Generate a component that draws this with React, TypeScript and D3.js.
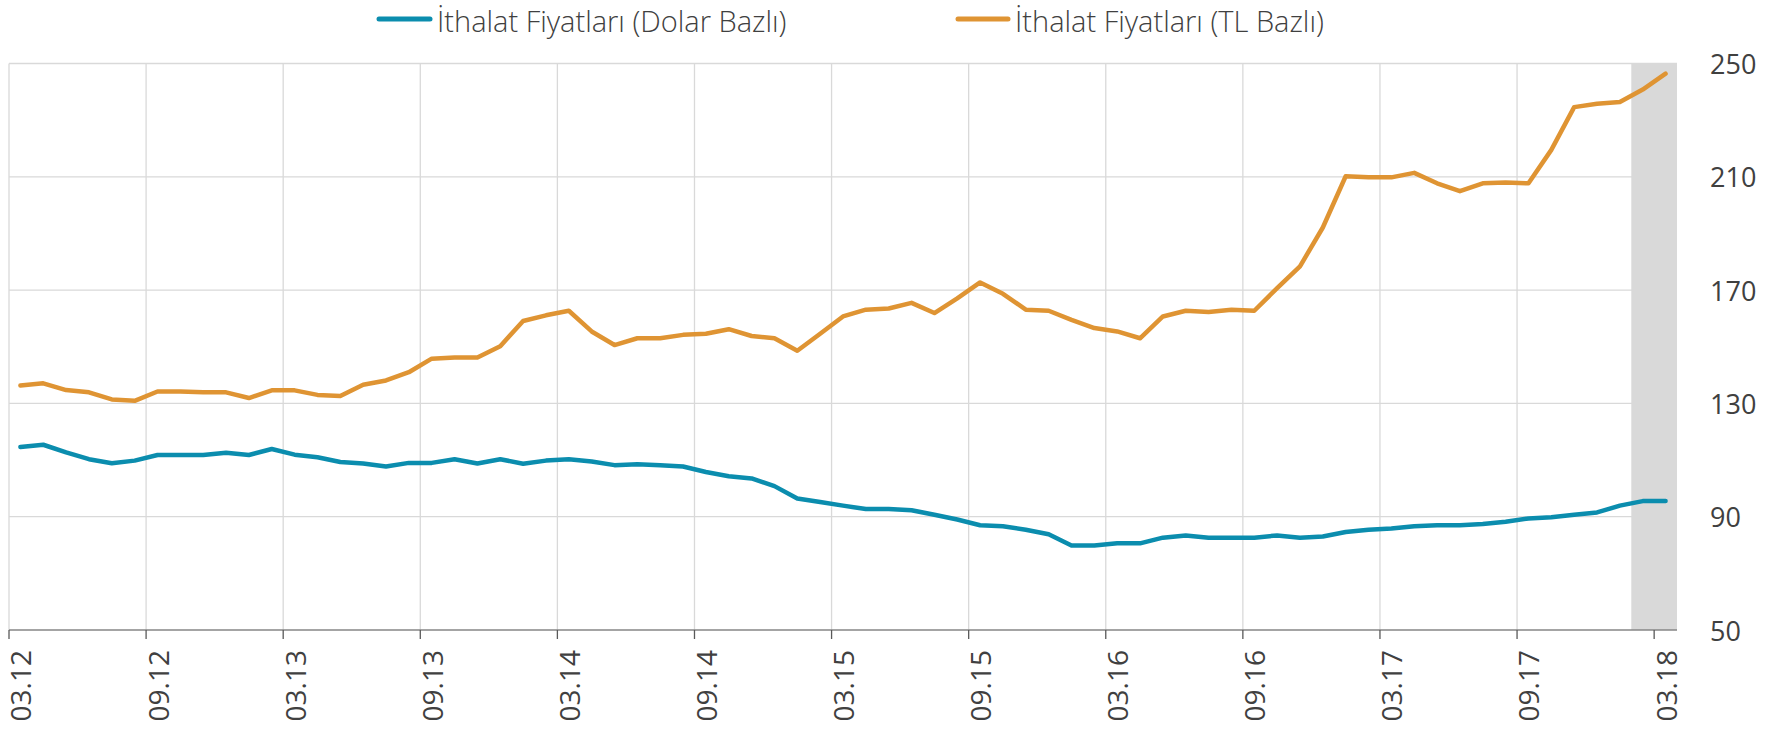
import * as d3 from "d3";
import React from "react";

// months 03.12 .. 03.18
const months = [
  "03.12", "04.12", "05.12", "06.12", "07.12", "08.12", "09.12", "10.12", "11.12", "12.12",
  "01.13", "02.13", "03.13", "04.13", "05.13", "06.13", "07.13", "08.13", "09.13", "10.13",
  "11.13", "12.13", "01.14", "02.14", "03.14", "04.14", "05.14", "06.14", "07.14", "08.14",
  "09.14", "10.14", "11.14", "12.14", "01.15", "02.15", "03.15", "04.15", "05.15", "06.15",
  "07.15", "08.15", "09.15", "10.15", "11.15", "12.15", "01.16", "02.16", "03.16", "04.16",
  "05.16", "06.16", "07.16", "08.16", "09.16", "10.16", "11.16", "12.16", "01.17", "02.17",
  "03.17", "04.17", "05.17", "06.17", "07.17", "08.17", "09.17", "10.17", "11.17", "12.17",
  "01.18", "02.18", "03.18",
];

const tickMonths = ["03.12", "09.12", "03.13", "09.13", "03.14", "09.14", "03.15", "09.15", "03.16", "09.16", "03.17", "09.17", "03.18"];
const shadedMonths = ["02.18", "03.18"];
const yTicks = [50, 90, 130, 170, 210, 250];

const dolarBazli = [
  114.6, 115.4, 112.7, 110.3, 108.9, 109.8, 111.8, 111.8, 111.8, 112.6,
  111.8, 113.9, 111.9, 111.0, 109.3, 108.8, 107.7, 109.0, 109.0, 110.3,
  108.8, 110.3, 108.7, 109.8, 110.3, 109.5, 108.2, 108.5, 108.2, 107.7,
  105.8, 104.3, 103.5, 100.8, 96.4, 95.2, 93.9, 92.7, 92.7, 92.3,
  90.7, 89.0, 87.0, 86.6, 85.4, 83.8, 79.8, 79.8, 80.6, 80.6,
  82.6, 83.4, 82.6, 82.6, 82.6, 83.4, 82.6, 83.0, 84.6, 85.4,
  85.8, 86.6, 87.0, 87.0, 87.4, 88.2, 89.4, 89.8, 90.7, 91.5,
  93.9, 95.5, 95.5,
];

const tlBazli = [
  136.3, 137.1, 134.7, 133.9, 131.4, 130.9, 134.2, 134.2, 133.9, 133.9,
  131.9, 134.6, 134.6, 133.0, 132.6, 136.6, 138.1, 141.0, 145.8, 146.2,
  146.2, 150.2, 159.1, 161.1, 162.7, 155.4, 150.6, 153.0, 153.0, 154.2,
  154.6, 156.2, 153.8, 153.0, 148.6, 154.6, 160.7, 163.1, 163.5, 165.5,
  161.9, 167.1, 172.7, 168.7, 163.1, 162.7, 159.5, 156.6, 155.4, 153.0,
  160.7, 162.7, 162.3, 163.1, 162.7, 170.7, 178.4, 192.1, 210.2, 209.8,
  209.8, 211.4, 207.7, 204.9, 207.7, 208.0, 207.7, 219.5, 234.6, 235.8,
  236.4, 240.8, 246.4,
];

const blue = "#0B8DAE";
const orange = "#DF9433";
const textColor = "#404040";

export default function App() {
  const W = 1783;
  const H = 730;
  const left = 9;
  const right = 1677;
  const top = 63.5;
  const bottom = 630;

  const x = d3.scaleBand<string>().domain(months).range([left, right]).padding(0);
  const y = d3.scaleLinear().domain([50, 250]).range([bottom, top]);
  const cx = (m: string) => (x(m) as number) + x.bandwidth() / 2;

  const line = d3
    .line<number>()
    .x((_, i) => cx(months[i]))
    .y((d) => y(d));

  const shadeX = x(shadedMonths[0]) as number;

  return (
    <svg
      width={W}
      height={H}
      style={{ position: "absolute", left: 0, top: 0, background: "#fff" }}
      fontFamily="'Open Sans', sans-serif"
    >
      {/* grid */}
      {yTicks.slice(1).map((t) => (
        <line key={"h" + t} x1={left} x2={right} y1={y(t)} y2={y(t)} stroke="#D9D9D9" strokeWidth={1.3} />
      ))}
      {tickMonths.map((m) => (
        <line key={"v" + m} x1={x(m)} x2={x(m)} y1={top} y2={bottom} stroke="#D9D9D9" strokeWidth={1.3} />
      ))}

      {/* shaded period */}
      <rect x={shadeX} y={top} width={right - shadeX} height={bottom - top} fill="#D9D9D9" />

      {/* x axis */}
      <line x1={left} x2={right} y1={bottom} y2={bottom} stroke="#868686" strokeWidth={1.5} />
      {tickMonths.map((m) => (
        <g key={"t" + m}>
          <line x1={x(m)} x2={x(m)} y1={bottom} y2={bottom + 9} stroke="#595959" strokeWidth={1.3} />
          <text
            transform={`translate(${cx(m)},${bottom + 20}) rotate(-90)`}
            textAnchor="end"
            dominantBaseline="central"
            fontSize={28}
            fill={textColor}
          >
            {m}
          </text>
        </g>
      ))}

      {/* right axis labels */}
      {yTicks.map((t) => (
        <text key={"y" + t} x={1710} y={y(t)} dominantBaseline="central" fontSize={27} fill={textColor}>
          {t}
        </text>
      ))}

      {/* series */}
      <path d={line(tlBazli) || ""} fill="none" stroke={orange} strokeWidth={4.5} strokeLinejoin="round" strokeLinecap="round" />
      <path d={line(dolarBazli) || ""} fill="none" stroke={blue} strokeWidth={4.5} strokeLinejoin="round" strokeLinecap="round" />

      {/* legend */}
      <line x1={379} x2={430} y1={19} y2={19} stroke={blue} strokeWidth={5} strokeLinecap="round" />
      <text x={437} y={32} fontSize={29} fontWeight={300} fill={textColor}>
        İthalat Fiyatları (Dolar Bazlı)
      </text>
      <line x1={958} x2={1008} y1={19} y2={19} stroke={orange} strokeWidth={5} strokeLinecap="round" />
      <text x={1015} y={32} fontSize={29} fontWeight={300} fill={textColor}>
        İthalat Fiyatları (TL Bazlı)
      </text>
    </svg>
  );
}
